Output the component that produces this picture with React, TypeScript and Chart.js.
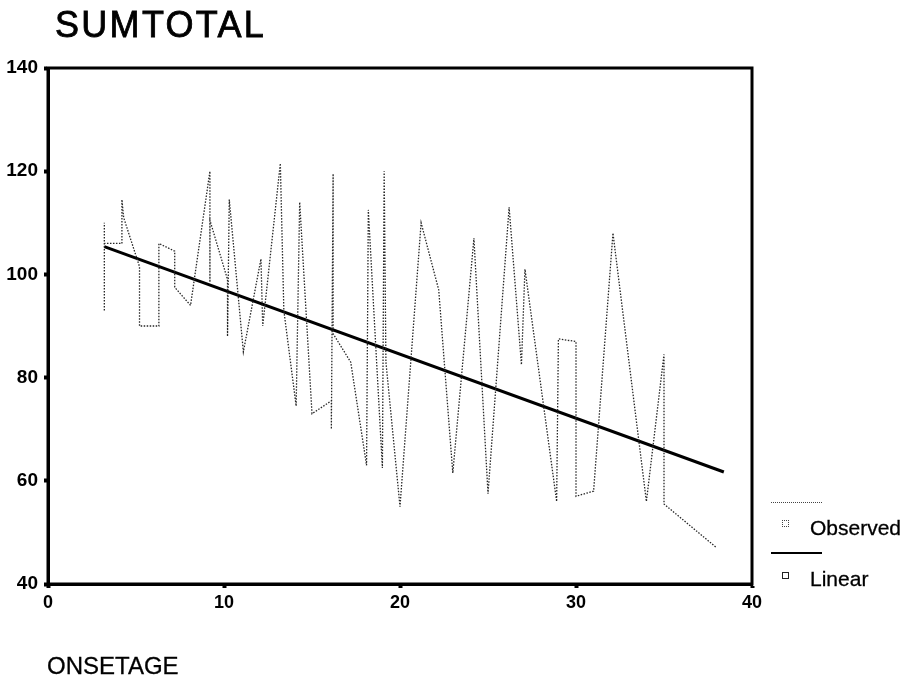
import React, { useEffect, useRef } from "react";
import { Chart, registerables } from "chart.js";

Chart.register(...registerables);

// Observed series (ONSETAGE, SUMTOTAL), in the order the dotted line joins them
const observedX = [
  3.2, 3.2, 3.2, 4.2, 4.2, 4.3, 5.2, 5.2, 6.3, 6.3, 7.2, 7.2, 8.1, 9.2, 9.2, 9.2,
  10.2, 10.2, 10.3, 11.1, 12.1, 12.2, 13.2, 13.4, 14.1, 14.3, 15.0, 16.1, 16.1,
  16.2, 16.2, 17.2, 18.1, 18.2, 19.0, 19.1, 19.2, 20.0, 21.2, 22.2, 23.0, 24.2,
  25.0, 26.2, 26.9, 27.1, 28.9, 29.0, 30.0, 30.0, 31.0, 32.1, 34.0, 35.0, 35.0, 38.0,
];
const observedY = [
  93, 110, 106, 106, 114.5, 111, 101.5, 90, 90, 106, 104.5, 97.5, 94, 120, 98.5, 110.5,
  99, 88, 114.5, 85, 103, 90, 121.5, 93, 74.5, 114, 73, 75.5, 70,
  119.5, 88.5, 83, 63, 112.5, 62.5, 120, 83, 55, 110, 97, 61.5, 107,
  57.5, 113, 82.5, 101, 56, 87.5, 87, 57, 58, 108, 56, 84.5, 55.5, 47,
];

// Linear fit line, endpoints
const linearX = [3.2, 38.4];
const linearY = [105.4, 61.7];

const xTickValues = [0, 10, 20, 30, 40];
const yTickValues = [40, 60, 80, 100, 120, 140];

const FONT = "'Liberation Sans', Arial, Helvetica, sans-serif";

const boxPlugin = {
  id: "boxFrame",
  afterDraw(chart: any) {
    const { ctx, chartArea: a } = chart;
    ctx.save();
    ctx.strokeStyle = "#000";
    ctx.lineWidth = 3;
    ctx.strokeRect(a.left, a.top, a.right - a.left, a.bottom - a.top);
    ctx.restore();
  },
};

export default function App() {
  const canvasRef = useRef<HTMLCanvasElement | null>(null);

  useEffect(() => {
    document.body.style.margin = "0";
    const canvas = canvasRef.current;
    if (!canvas) return;
    const chart = new Chart(canvas, {
      type: "line",
      data: {
        datasets: [
          {
            label: "Observed",
            data: observedX.map((x, i) => ({ x, y: observedY[i] })),
            borderColor: "#262626",
            borderWidth: 1.3,
            borderDash: [1.5, 1.5],
            pointRadius: 0,
            tension: 0,
            fill: false,
          },
          {
            label: "Linear",
            data: linearX.map((x, i) => ({ x, y: linearY[i] })),
            borderColor: "#000",
            borderWidth: 3,
            pointRadius: 0,
            tension: 0,
            fill: false,
          },
        ],
      },
      options: {
        animation: false,
        responsive: true,
        maintainAspectRatio: false,
        layout: { padding: { top: 68, right: 157, left: 0, bottom: 0 } },
        plugins: {
          legend: { display: false },
          title: { display: false },
          tooltip: { enabled: false },
        },
        scales: {
          x: {
            type: "linear",
            min: 0,
            max: 40,
            afterBuildTicks(scale: any) {
              scale.ticks = xTickValues.map((v) => ({ value: v }));
            },
            afterFit(scale: any) {
              scale.height = 99;
            },
            border: { display: true, color: "#000", width: 3 },
            grid: {
              drawOnChartArea: false,
              drawTicks: true,
              tickLength: 4,
              tickWidth: 4,
              tickColor: "#000",
            },
            ticks: {
              color: "#000",
              padding: 4,
              maxRotation: 0,
              font: { family: FONT, size: 18, weight: "bold" },
            },
          },
          y: {
            type: "linear",
            min: 40,
            max: 140,
            afterBuildTicks(scale: any) {
              scale.ticks = yTickValues.map((v) => ({ value: v }));
            },
            afterFit(scale: any) {
              scale.width = 48;
            },
            border: { display: true, color: "#000", width: 3 },
            grid: {
              drawOnChartArea: false,
              drawTicks: true,
              tickLength: 4,
              tickWidth: 4,
              tickColor: "#000",
            },
            ticks: {
              color: "#000",
              padding: 6,
              font: { family: FONT, size: 19, weight: "bold" },
            },
          },
        },
      },
      plugins: [boxPlugin],
    } as any);
    return () => chart.destroy();
  }, []);

  const textBase: React.CSSProperties = {
    position: "absolute",
    fontFamily: FONT,
    color: "#000",
    lineHeight: 1,
    whiteSpace: "nowrap",
    margin: 0,
  };

  return (
    <div
      style={{
        position: "fixed",
        left: 0,
        top: 0,
        width: 909,
        height: 683,
        background: "#fff",
        overflow: "hidden",
      }}
    >
      <canvas ref={canvasRef} />
      <div
        style={{
          ...textBase,
          left: 55,
          top: 7,
          fontSize: 36,
          letterSpacing: 2.3,
          WebkitTextStroke: "0.8px #000",
        }}
      >
        SUMTOTAL
      </div>
      <div style={{ ...textBase, left: 47, top: 654, fontSize: 24, WebkitTextStroke: "0.3px #000" }}>
        ONSETAGE
      </div>

      {/* legend */}
      <div
        style={{
          position: "absolute",
          left: 771,
          top: 502,
          width: 51,
          borderTop: "1px dotted #444",
        }}
      />
      <div
        style={{
          position: "absolute",
          left: 782,
          top: 520,
          width: 5,
          height: 5,
          border: "1px dotted #444",
        }}
      />
      <div style={{ ...textBase, left: 810, top: 517, fontSize: 21, WebkitTextStroke: "0.3px #000" }}>
        Observed
      </div>
      <div
        style={{
          position: "absolute",
          left: 771,
          top: 552,
          width: 51,
          borderTop: "2px solid #000",
        }}
      />
      <div
        style={{
          position: "absolute",
          left: 782,
          top: 572,
          width: 5,
          height: 5,
          border: "1px solid #222",
        }}
      />
      <div style={{ ...textBase, left: 810, top: 568, fontSize: 21, WebkitTextStroke: "0.3px #000" }}>
        Linear
      </div>
    </div>
  );
}
